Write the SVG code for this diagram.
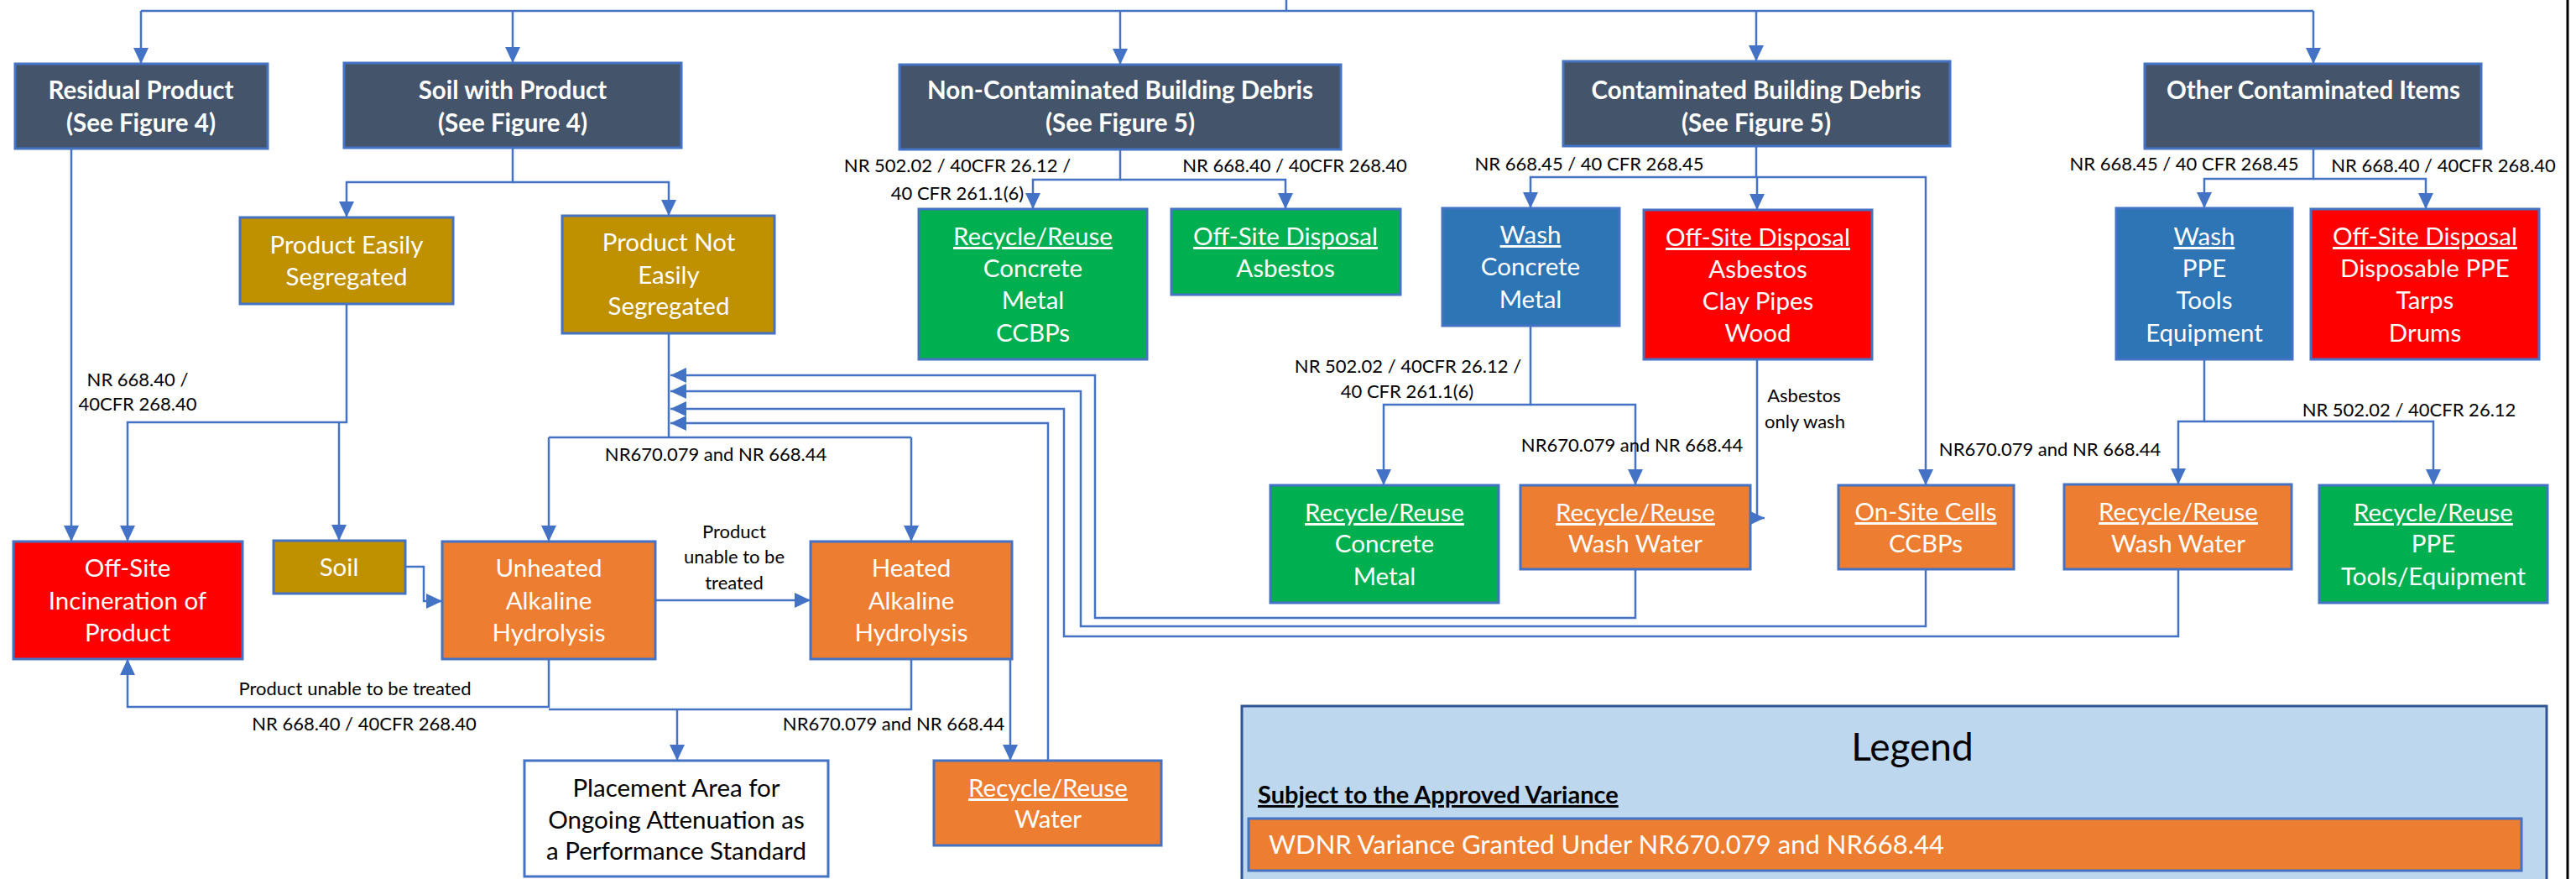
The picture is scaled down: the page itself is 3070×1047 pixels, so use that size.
<svg xmlns="http://www.w3.org/2000/svg" width="3070" height="1047" viewBox="0 0 3070 1047">
<style>
.n{stroke:#4472C4;stroke-width:3}
.hdr{fill:#44546A}.gold{fill:#BF9000}.org{fill:#ED7D31}.grn{fill:#00B050}.blu{fill:#2E75B6}.red{fill:#FF0000}.wht{fill:#FFFFFF}
text{font-family:Lato,"Open Sans","Liberation Sans",sans-serif}
.t{font-size:29.5px;fill:#FFFFFF;text-anchor:middle}
.b{font-weight:bold;font-size:29.5px}
.k{fill:#000000}
.u{text-decoration:underline}
.l{font-size:22px;fill:#000000;text-anchor:middle}
.c{fill:none;stroke:#4472C4;stroke-width:2.5}
</style>
<defs>
<marker id="ar" markerUnits="userSpaceOnUse" markerWidth="19" markerHeight="18" refX="19" refY="9" orient="auto">
<path d="M0,0 L19,9 L0,18 z" fill="#4472C4"/>
</marker>
</defs>
<line x1="3060" y1="0" x2="3060" y2="1047" stroke="#000" stroke-width="3"/>
<g id="connectors">
<path class="c" d="M1533,0 V13"/>
<path class="c" d="M168,13 H2757"/>
<path class="c" d="M168,13 V76" marker-end="url(#ar)"/>
<path class="c" d="M611,13 V75" marker-end="url(#ar)"/>
<path class="c" d="M1335,13 V77" marker-end="url(#ar)"/>
<path class="c" d="M2093,13 V73" marker-end="url(#ar)"/>
<path class="c" d="M2757,13 V76" marker-end="url(#ar)"/>
<path class="c" d="M85,177 V645" marker-end="url(#ar)"/>
<path class="c" d="M611,176 V217 H413 V259" marker-end="url(#ar)"/>
<path class="c" d="M611,217 H797 V257" marker-end="url(#ar)"/>
<path class="c" d="M413,362 V503 H152 V645" marker-end="url(#ar)"/>
<path class="c" d="M404,503 V644" marker-end="url(#ar)"/>
<path class="c" d="M797,397 V521"/>
<path class="c" d="M654,521 H1086"/>
<path class="c" d="M654,521 V645" marker-end="url(#ar)"/>
<path class="c" d="M1086,521 V645" marker-end="url(#ar)"/>
<path class="c" d="M1949,678 V736 H1305 V447 H799" marker-end="url(#ar)"/>
<path class="c" d="M2295,678 V746 H1288 V466 H799" marker-end="url(#ar)"/>
<path class="c" d="M2596,678 V758 H1268 V487 H799" marker-end="url(#ar)"/>
<path class="c" d="M1249,906 V504 H799" marker-end="url(#ar)"/>
<path class="c" d="M483,675 H505 V716 H527" marker-end="url(#ar)"/>
<path class="c" d="M781,715 H966" marker-end="url(#ar)"/>
<path class="c" d="M654,785 V842 H152 V785" marker-end="url(#ar)"/>
<path class="c" d="M654,845 H1086 V785"/>
<path class="c" d="M807,845 V906" marker-end="url(#ar)"/>
<path class="c" d="M1204,785 V906" marker-end="url(#ar)"/>
<path class="c" d="M1335,178 V214 H1231 V249" marker-end="url(#ar)"/>
<path class="c" d="M1335,214 H1532 V249" marker-end="url(#ar)"/>
<path class="c" d="M2093,174 V211 H1824 V248" marker-end="url(#ar)"/>
<path class="c" d="M2094,211 V250" marker-end="url(#ar)"/>
<path class="c" d="M2093,211 H2295 V578" marker-end="url(#ar)"/>
<path class="c" d="M2094,428 V617 H2103" marker-end="url(#ar)"/>
<path class="c" d="M1824,388 V482 H1649 V578" marker-end="url(#ar)"/>
<path class="c" d="M1824,482 H1949 V578" marker-end="url(#ar)"/>
<path class="c" d="M2757,177 V213 H2627 V248" marker-end="url(#ar)"/>
<path class="c" d="M2757,213 H2891 V249" marker-end="url(#ar)"/>
<path class="c" d="M2627,428 V502 H2596 V577" marker-end="url(#ar)"/>
<path class="c" d="M2627,502 H2900 V578" marker-end="url(#ar)"/>
</g>
<g id="labels">
<text class="l" x="164" y="460">NR 668.40 /</text>
<text class="l" x="164" y="489">40CFR 268.40</text>
<text class="l" x="853" y="549">NR670.079 and NR 668.44</text>
<text class="l" x="875" y="641">Product</text>
<text class="l" x="875" y="671">unable to be</text>
<text class="l" x="875" y="702">treated</text>
<text class="l" x="423" y="828">Product unable to be treated</text>
<text class="l" x="434" y="870">NR 668.40 / 40CFR 268.40</text>
<text class="l" x="1065" y="870">NR670.079 and NR 668.44</text>
<text class="l" x="1141" y="205">NR 502.02 / 40CFR 26.12 /</text>
<text class="l" x="1141" y="238">40 CFR 261.1(6)</text>
<text class="l" x="1543" y="205">NR 668.40 / 40CFR 268.40</text>
<text class="l" x="1894" y="203">NR 668.45 / 40 CFR 268.45</text>
<text class="l" x="1678" y="444">NR 502.02 / 40CFR 26.12 /</text>
<text class="l" x="1677" y="474">40 CFR 261.1(6)</text>
<text class="l" x="1945" y="538">NR670.079 and NR 668.44</text>
<text class="l" x="2150" y="479">Asbestos</text>
<text class="l" x="2151" y="510">only wash</text>
<text class="l" x="2443" y="543">NR670.079 and NR 668.44</text>
<text class="l" x="2603" y="203">NR 668.45 / 40 CFR 268.45</text>
<text class="l" x="2912" y="205">NR 668.40 / 40CFR 268.40</text>
<text class="l" x="2871" y="496">NR 502.02 / 40CFR 26.12</text>
</g>
<g id="residual"><rect class="n hdr" x="18" y="76" width="301" height="101"/>
<text class="t b" x="168" y="118">Residual Product</text><text class="t b" x="168" y="157">(See Figure 4)</text></g>
<g id="soilproduct"><rect class="n hdr" x="410" y="75" width="402" height="101"/>
<text class="t b" x="611" y="118">Soil with Product</text><text class="t b" x="611" y="157">(See Figure 4)</text></g>
<g id="noncontam"><rect class="n hdr" x="1072" y="77" width="526" height="101"/>
<text class="t b" x="1335" y="118">Non-Contaminated Building Debris</text><text class="t b" x="1335" y="157">(See Figure 5)</text></g>
<g id="contam"><rect class="n hdr" x="1863" y="73" width="461" height="101"/>
<text class="t b" x="2093" y="118">Contaminated Building Debris</text><text class="t b" x="2093" y="157">(See Figure 5)</text></g>
<g id="other"><rect class="n hdr" x="2556" y="76" width="401" height="101"/>
<text class="t b" x="2757" y="118">Other Contaminated Items</text></g>
<g id="easily"><rect class="n gold" x="286" y="259" width="254" height="103"/>
<text class="t" x="413" y="302">Product Easily</text><text class="t" x="413" y="340">Segregated</text></g>
<g id="noteasily"><rect class="n gold" x="670" y="257" width="253" height="140"/>
<text class="t" x="797" y="299">Product Not</text><text class="t" x="797" y="338">Easily</text><text class="t" x="797" y="375">Segregated</text></g>
<g id="recycle1"><rect class="n grn" x="1095" y="249" width="272" height="179"/>
<text class="t u" x="1231" y="292">Recycle/Reuse</text><text class="t" x="1231" y="330">Concrete</text><text class="t" x="1231" y="368">Metal</text><text class="t" x="1231" y="407">CCBPs</text></g>
<g id="offsite1"><rect class="n grn" x="1396" y="249" width="273" height="102"/>
<text class="t u" x="1532" y="292">Off-Site Disposal</text><text class="t" x="1532" y="330">Asbestos</text></g>
<g id="wash1"><rect class="n blu" x="1719" y="248" width="211" height="140"/>
<text class="t u" x="1824" y="290">Wash</text><text class="t" x="1824" y="328">Concrete</text><text class="t" x="1824" y="367">Metal</text></g>
<g id="offsite2"><rect class="n red" x="1959" y="250" width="272" height="178"/>
<text class="t u" x="2095" y="293">Off-Site Disposal</text><text class="t" x="2095" y="331">Asbestos</text><text class="t" x="2095" y="369">Clay Pipes</text><text class="t" x="2095" y="407">Wood</text></g>
<g id="wash2"><rect class="n blu" x="2522" y="248" width="210" height="180"/>
<text class="t u" x="2627" y="292">Wash</text><text class="t" x="2627" y="330">PPE</text><text class="t" x="2627" y="368">Tools</text><text class="t" x="2627" y="407">Equipment</text></g>
<g id="offsite3"><rect class="n red" x="2754" y="249" width="272" height="179"/>
<text class="t u" x="2890" y="292">Off-Site Disposal</text><text class="t" x="2890" y="330">Disposable PPE</text><text class="t" x="2890" y="368">Tarps</text><text class="t" x="2890" y="407">Drums</text></g>
<g id="incineration"><rect class="n red" x="16" y="645" width="273" height="140"/>
<text class="t" x="152" y="687">Off-Site</text><text class="t" x="152" y="726">Incineration of</text><text class="t" x="152" y="764">Product</text></g>
<g id="soil"><rect class="n gold" x="326" y="644" width="157" height="63"/>
<text class="t" x="404" y="686">Soil</text></g>
<g id="unheated"><rect class="n org" x="527" y="645" width="254" height="140"/>
<text class="t" x="654" y="687">Unheated</text><text class="t" x="654" y="726">Alkaline</text><text class="t" x="654" y="764">Hydrolysis</text></g>
<g id="heated"><rect class="n org" x="966" y="645" width="240" height="140"/>
<text class="t" x="1086" y="687">Heated</text><text class="t" x="1086" y="726">Alkaline</text><text class="t" x="1086" y="764">Hydrolysis</text></g>
<g id="placement"><rect class="n wht" x="625" y="906" width="362" height="138"/>
<text class="t k" x="806" y="949">Placement Area for</text><text class="t k" x="806" y="987">Ongoing Attenuation as</text><text class="t k" x="806" y="1024">a Performance Standard</text></g>
<g id="water"><rect class="n org" x="1113" y="906" width="271" height="101"/>
<text class="t u" x="1249" y="949">Recycle/Reuse</text><text class="t" x="1249" y="986">Water</text></g>
<g id="recycle2"><rect class="n grn" x="1514" y="578" width="272" height="140"/>
<text class="t u" x="1650" y="621">Recycle/Reuse</text><text class="t" x="1650" y="658">Concrete</text><text class="t" x="1650" y="697">Metal</text></g>
<g id="washwater1"><rect class="n org" x="1812" y="578" width="274" height="100"/>
<text class="t u" x="1949" y="621">Recycle/Reuse</text><text class="t" x="1949" y="658">Wash Water</text></g>
<g id="onsite"><rect class="n org" x="2191" y="578" width="209" height="100"/>
<text class="t u" x="2295" y="620">On-Site Cells</text><text class="t" x="2295" y="658">CCBPs</text></g>
<g id="washwater2"><rect class="n org" x="2460" y="577" width="271" height="101"/>
<text class="t u" x="2596" y="620">Recycle/Reuse</text><text class="t" x="2596" y="658">Wash Water</text></g>
<g id="recycle3"><rect class="n grn" x="2764" y="578" width="272" height="140"/>
<text class="t u" x="2900" y="621">Recycle/Reuse</text><text class="t" x="2900" y="658">PPE</text><text class="t" x="2900" y="697">Tools/Equipment</text></g>
<g id="legend">
<rect x="1480" y="841" width="1555" height="220" fill="#BDD7EE" stroke="#2F5597" stroke-width="3"/>
<text x="2279" y="906" font-size="46" text-anchor="middle" fill="#000">Legend</text>
<text x="1499" y="957" font-size="29" font-weight="bold" fill="#000" text-decoration="underline">Subject to the Approved Variance</text>
<rect class="n org" x="1488" y="975" width="1517" height="62"/>
<text x="1512" y="1017" font-size="31" fill="#FFFFFF">WDNR Variance Granted Under NR670.079 and NR668.44</text>
</g>
</svg>
